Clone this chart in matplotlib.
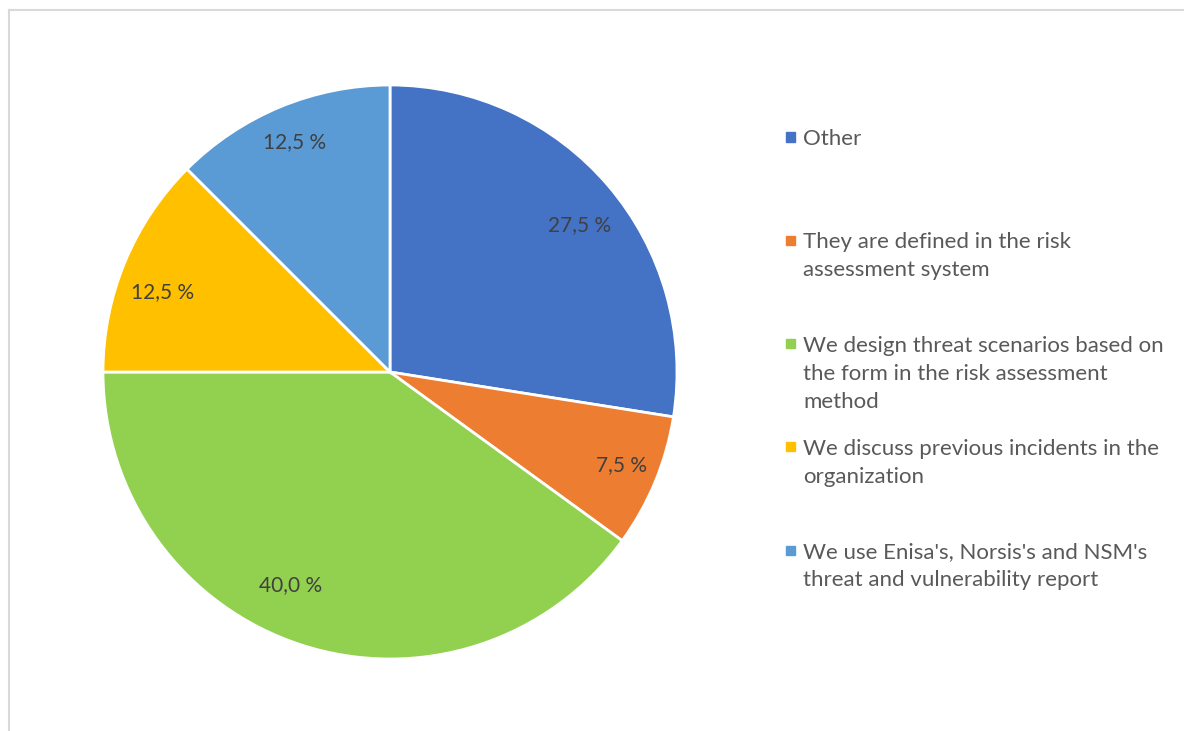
import matplotlib
matplotlib.use("Agg")
import matplotlib.pyplot as plt
from matplotlib.lines import Line2D
from matplotlib.patches import Rectangle

plt.rcParams['font.family'] = ['Lato', 'DejaVu Sans']

# survey answers, clockwise from twelve o'clock
categories = [
    "Other",
    "They are defined in the risk\nassessment system",
    "We design threat scenarios based on\nthe form in the risk assessment\nmethod",
    "We discuss previous incidents in the\norganization",
    "We use Enisa's, Norsis's and NSM's\nthreat and vulnerability report",
]
shares = [27.5, 7.5, 40.0, 12.5, 12.5]
colors = ["#4472C4", "#ED7D31", "#92D050", "#FFC000", "#5B9BD5"]

# where each percentage sits inside its slice (units of the radius)
label_xy = [(0.662, 0.512), (0.808, -0.324), (-0.348, -0.742),
            (-0.794, 0.279), (-0.334, 0.801)]

W, H = 1184, 731
fig = plt.figure(figsize=(W / 100, H / 100), dpi=100)

# pie centred at (390, 372) px with radius 287 px
cx, cy, r = 390, 372, 287
ax = fig.add_axes([(cx - r) / W, (H - cy - r) / H, 2 * r / W, 2 * r / H])
wedges, texts, autotexts = ax.pie(
    shares, colors=colors, startangle=90, counterclock=False,
    autopct=lambda p: f"{p:.1f} %".replace(".", ","),
    wedgeprops=dict(edgecolor="white", linewidth=2),
    textprops=dict(color="#404040", fontsize=15),
)
for t, xy in zip(autotexts, label_xy):
    t.set_position(xy)
ax.set_xlim(-1, 1)
ax.set_ylim(-1, 1)
ax.set_aspect("equal")
ax.axis("off")

# legend drawn by hand: evenly spaced slots, text top-aligned
y0, step = 137, 103.3
for i, (lab, col) in enumerate(zip(categories, colors)):
    y = y0 + i * step
    fig.add_artist(Rectangle((786 / W, 1 - (y + 4.5) / H), 9 / W, 9 / H,
                             transform=fig.transFigure, color=col))
    fig.text(803 / W, 1 - (y - 8) / H, lab, ha="left", va="top",
             fontsize=16, color="#595959", linespacing=1.5)

# light grey chart frame
fig.add_artist(Line2D([8.5 / W, 1], [1 - 9.5 / H] * 2, transform=fig.transFigure,
                      color="#D9D9D9", linewidth=1.5))
fig.add_artist(Line2D([8.5 / W] * 2, [0, 1 - 9.5 / H], transform=fig.transFigure,
                      color="#D9D9D9", linewidth=1.5))

fig.savefig("out.png", dpi=100, facecolor="white")
